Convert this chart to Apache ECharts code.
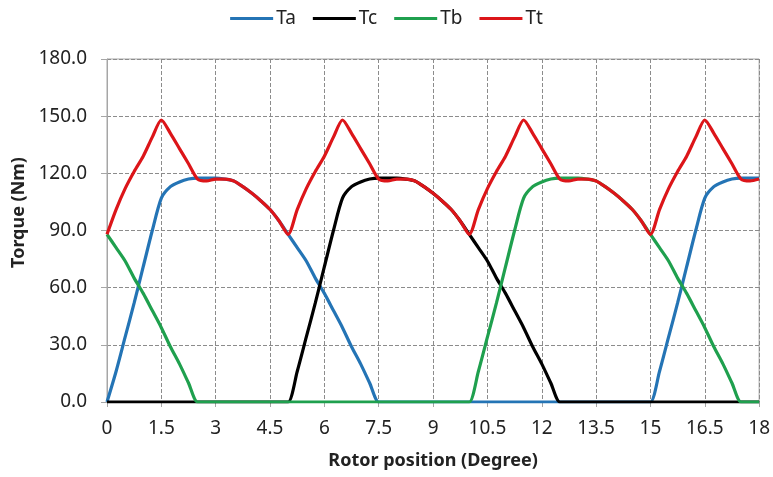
<!DOCTYPE html>
<html lang="en">
<head>
<meta charset="UTF-8">
<title>Torque</title>
<script src="https://cdn.jsdelivr.net/npm/echarts@6/dist/echarts.min.js"></script>
<style>
  html, body { margin: 0; padding: 0; background: #fff; }
  #main { width: 773px; height: 477px; }
</style>
</head>
<body>
<div id="main"></div>
<script type="text/javascript">
// rotor position, step 0.25 degree
var position = [];
for (var i = 0; i <= 72; i++) { position.push(i * 0.25); }

var Ta = [0,16,34,52,71,90,107,113,115.5,117,117.5,117.5,117.5,117,116,113,109.5,105.5,101,95,
          88,81,74,65,57,48,39,29,20,10,0,0,0,0,0,0,0,0,0,0,
          0,0,0,0,0,0,0,0,0,0,0,0,0,0,0,0,0,0,0,0,
          0,16,34,52,71,90,107,113,115.5,117,117.5,117.5,117.5];
var Tc = [0,0,0,0,0,0,0,0,0,0,0,0,0,0,0,0,0,0,0,0,
          0,16,34,52,71,90,107,113,115.5,117,117.5,117.5,117.5,117,116,113,109.5,105.5,101,95,
          88,81,74,65,57,48,39,29,20,10,0,0,0,0,0,0,0,0,0,0,
          0,0,0,0,0,0,0,0,0,0,0,0,0];
var Tb = [88,81,74,65,57,48,39,29,20,10,0,0,0,0,0,0,0,0,0,0,
          0,0,0,0,0,0,0,0,0,0,0,0,0,0,0,0,0,0,0,0,
          0,16,34,52,71,90,107,113,115.5,117,117.5,117.5,117.5,117,116,113,109.5,105.5,101,95,
          88,81,74,65,57,48,39,29,20,10,0,0,0];
var Tt = [88,101,112,121,129,139,148,141,133,125,117,116,117,117,116,113,109.5,105.5,101,95,
          88,101,112,121,129,139,148,141,133,125,117,116,117,117,116,113,109.5,105.5,101,95,
          88,101,112,121,129,139,148,141,133,125,117,116,117,117,116,113,109.5,105.5,101,95,
          88,101,112,121,129,139,148,141,133,125,117,116,117];

var names = ['Ta', 'Tc', 'Tb', 'Tt'];
var colors = ['#2474b5', '#000000', '#1fa04e', '#dc1519'];
var values = [Ta, Tc, Tb, Tt];

var font = "'Noto Sans', 'Open Sans', sans-serif";

function pairs(ys) {
  return ys.map(function (y, k) { return [position[k], y]; });
}

var chartDom = document.getElementById('main');
var myChart = echarts.init(chartDom);

var series = names.map(function (n, k) {
  return {
    name: n,
    type: 'line',
    data: pairs(values[k]),
    smooth: 0.25,
    showSymbol: false,
    symbol: 'none',
    lineStyle: { width: 3.2, color: colors[k] },
    itemStyle: { color: colors[k] },
    z: 2 + k
  };
});

var option = {
  animation: false,
  color: colors,
  textStyle: { fontFamily: font },
  legend: {
    top: 4,
    left: 'center',
    icon: 'rect',
    itemWidth: 43,
    itemHeight: 3,
    itemGap: 17,
    textStyle: { fontSize: 19, color: '#222', fontFamily: font, padding: [0, 0, 0, -2] },
    data: names
  },
  grid: {
    left: 107, right: 13, top: 59, bottom: 75,
    show: true, borderColor: '#a6a6a6', borderWidth: 1
  },
  xAxis: {
    type: 'value',
    min: 0, max: 18, interval: 1.5,
    name: 'Rotor position (Degree)',
    nameLocation: 'middle',
    nameGap: 50,
    nameTextStyle: { fontSize: 18, fontWeight: 'bold', color: '#222', fontFamily: font },
    axisLine: { lineStyle: { color: '#a6a6a6' } },
    axisTick: { show: true, length: 5, lineStyle: { color: '#a6a6a6' } },
    axisLabel: { fontSize: 19, color: '#222', margin: 17, fontFamily: font },
    splitLine: { lineStyle: { type: 'dashed', color: '#8c8c8c' } }
  },
  yAxis: {
    type: 'value',
    min: 0, max: 180, interval: 30,
    name: 'Torque (Nm)',
    nameLocation: 'middle',
    nameGap: 79,
    nameRotate: 90,
    nameTextStyle: {
      fontSize: 18, fontWeight: 'bold', color: '#222', fontFamily: font,
      padding: [0, 0, 0, 36]
    },
    axisLine: { show: true, lineStyle: { color: '#a6a6a6' } },
    axisTick: { show: true, length: 6, lineStyle: { color: '#a6a6a6' } },
    axisLabel: {
      fontSize: 19, color: '#222', margin: 20, fontFamily: font,
      formatter: function (v) { return v.toFixed(1); }
    },
    splitLine: { lineStyle: { type: 'dashed', color: '#8c8c8c' } }
  },
  series: series
};

myChart.setOption(option);
</script>
</body>
</html>
